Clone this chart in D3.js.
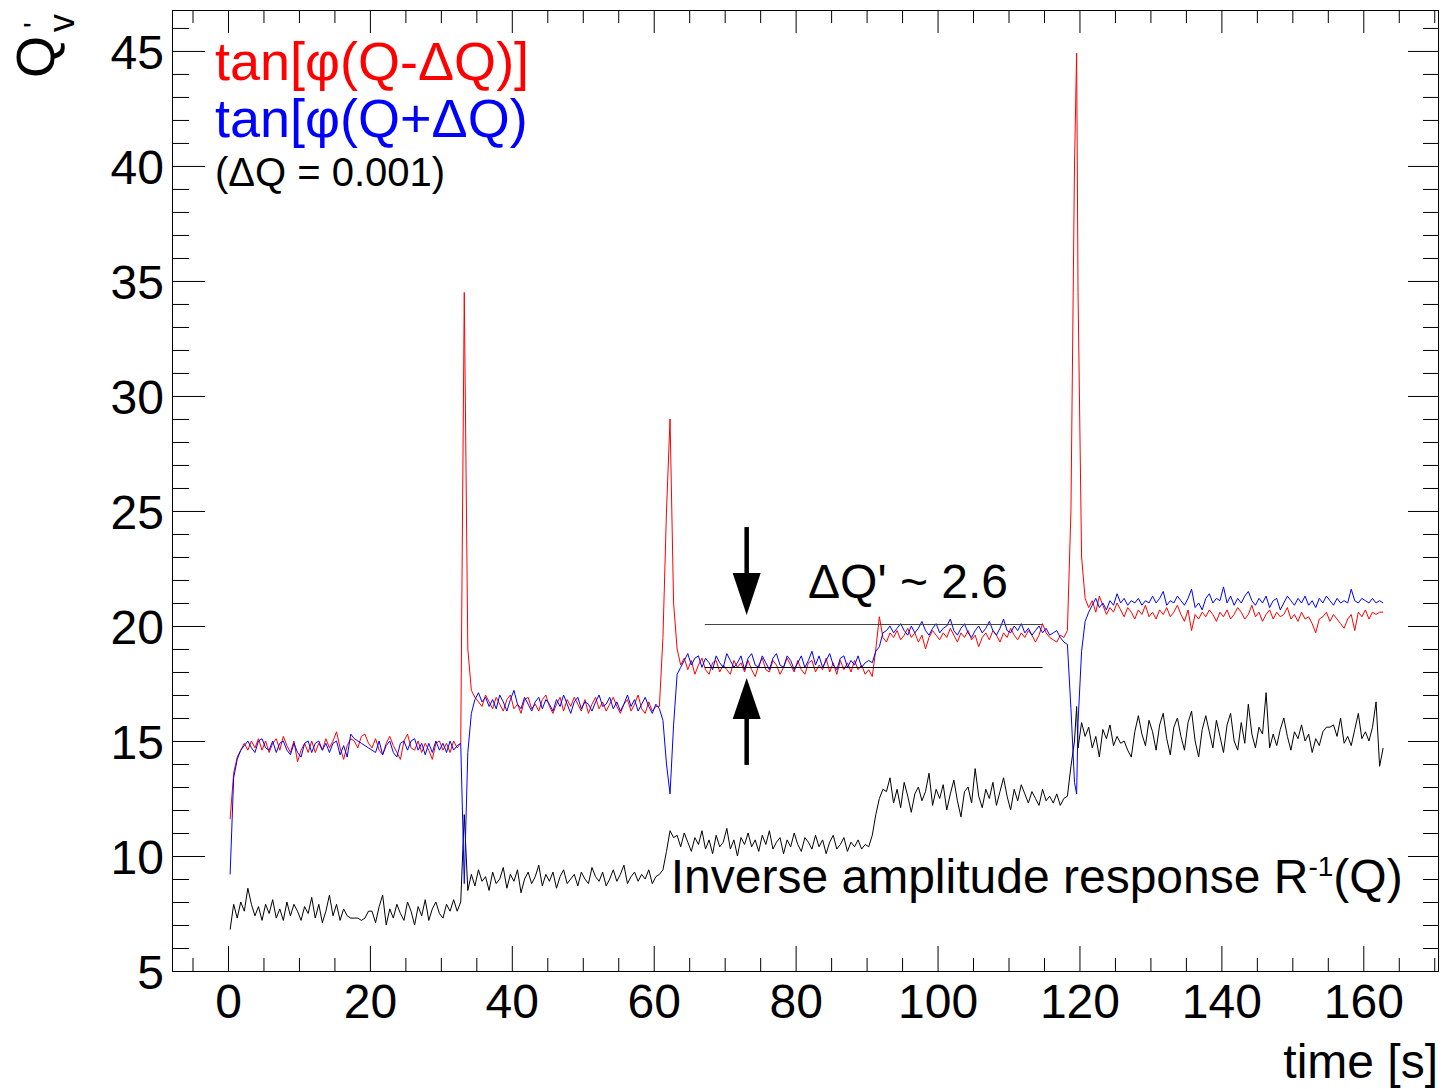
<!DOCTYPE html>
<html><head><meta charset="utf-8">
<script src="https://cdn.jsdelivr.net/npm/d3@7"></script>
<style>
body{margin:0;background:#fff}
svg{display:block}
text{font-family:"Liberation Sans", Arial, Helvetica, sans-serif}
</style>
</head><body>
<svg id="chart" width="1444" height="1089"></svg>
<script>
// ---- data (time in s, values of Q'_v) ----
const time = [
0.3,0.8,1.3,1.8,2.3,2.8,3.3,3.8,4.3,4.8,5.3,5.8,6.3,6.8,7.3,7.8,8.3,8.8,9.3,9.8,
10.3,10.8,11.3,11.8,12.3,12.8,13.3,13.8,14.3,14.8,15.3,15.8,16.3,16.8,17.3,17.8,18.3,18.8,19.3,19.8,
20.3,20.8,21.3,21.8,22.3,22.8,23.3,23.8,24.3,24.8,25.3,25.8,26.3,26.8,27.3,27.8,28.3,28.8,29.3,29.8,
30.3,30.8,31.3,31.8,32.3,32.8,33.3,33.8,34.3,34.8,35.3,35.8,36.3,36.8,37.3,37.8,38.3,38.8,39.3,39.8,
40.3,40.8,41.3,41.8,42.3,42.8,43.3,43.8,44.3,44.8,45.3,45.8,46.3,46.8,47.3,47.8,48.3,48.8,49.3,49.8,
50.3,50.8,51.3,51.8,52.3,52.8,53.3,53.8,54.3,54.8,55.3,55.8,56.3,56.8,57.3,57.8,58.3,58.8,59.3,59.8,
60.3,60.8,61.3,61.8,62.3,62.8,63.3,63.8,64.3,64.8,65.3,65.8,66.3,66.8,67.3,67.8,68.3,68.8,69.3,69.8,
70.3,70.8,71.3,71.8,72.3,72.8,73.3,73.8,74.3,74.8,75.3,75.8,76.3,76.8,77.3,77.8,78.3,78.8,79.3,79.8,
80.3,80.8,81.3,81.8,82.3,82.8,83.3,83.8,84.3,84.8,85.3,85.8,86.3,86.8,87.3,87.8,88.3,88.8,89.3,89.8,
90.3,90.8,91.3,91.8,92.3,92.8,93.3,93.8,94.3,94.8,95.3,95.8,96.3,96.8,97.3,97.8,98.3,98.8,99.3,99.8,
100.3,100.8,101.3,101.8,102.3,102.8,103.3,103.8,104.3,104.8,105.3,105.8,106.3,106.8,107.3,107.8,108.3,108.8,109.3,109.8,
110.3,110.8,111.3,111.8,112.3,112.8,113.3,113.8,114.3,114.8,115.3,115.8,116.3,116.8,117.3,117.8,118.3,118.8,119.3,119.6,119.8,
120.3,120.8,121.3,121.8,122.3,122.8,123.3,123.8,124.3,124.8,125.3,125.8,126.3,126.8,127.3,127.8,128.3,128.8,129.3,129.8,
130.3,130.8,131.3,131.8,132.3,132.8,133.3,133.8,134.3,134.8,135.3,135.8,136.3,136.8,137.3,137.8,138.3,138.8,139.3,139.8,
140.3,140.8,141.3,141.8,142.3,142.8,143.3,143.8,144.3,144.8,145.3,145.8,146.3,146.8,147.3,147.8,148.3,148.8,149.3,149.8,
150.3,150.8,151.3,151.8,152.3,152.8,153.3,153.8,154.3,154.8,155.3,155.8,156.3,156.8,157.3,157.8,158.3,158.8,159.3,159.8,
160.3,160.8,161.3,161.8,162.3,162.8
];

// tan[phi(Q-dQ)]  (red)
const tanMinus = [
11.6,13.6,14.3,14.6,14.9,14.6,15.0,14.7,15.1,14.6,15.0,14.5,14.9,15.1,14.6,15.2,14.8,14.5,15.0,14.1,
14.6,14.9,14.5,15.0,14.5,14.9,14.6,15.1,14.7,15.0,15.4,14.7,14.2,14.8,15.1,15.0,14.7,15.2,15.3,14.9,
14.7,15.1,14.6,14.4,14.9,15.2,14.8,14.5,14.2,15.0,15.3,14.7,14.6,15.0,14.5,14.9,14.6,14.2,14.9,15.0,
14.6,14.9,14.5,15.0,14.7,14.9,
34.5,
19.0,17.2,16.9,16.7,16.5,17.0,16.7,16.4,16.9,16.6,16.3,16.8,17.0,16.4,16.6,16.2,16.8,16.9,16.4,16.6,
16.3,16.8,17.0,16.5,16.2,16.6,16.9,16.3,16.8,16.5,16.9,16.6,16.3,16.8,16.2,16.6,16.9,16.4,16.7,16.3,
16.6,16.9,16.5,16.2,16.6,16.8,16.3,16.6,17.0,16.4,16.2,16.7,16.3,16.5,16.5,
19.5,25.0,29.0,21.0,
19.0,18.3,18.6,18.1,18.5,17.9,18.3,18.6,18.1,17.9,18.4,18.5,18.0,18.3,18.1,17.9,18.5,18.2,18.4,18.0,
18.5,18.1,17.8,18.3,18.6,18.1,18.0,18.5,18.3,17.9,18.2,18.6,18.3,18.0,18.5,18.1,17.9,18.4,18.5,18.0,
18.3,18.1,18.6,18.0,18.4,17.9,18.5,18.1,18.4,18.0,18.5,18.1,18.3,17.9,18.1,
17.8,19.0,20.4,19.5,
19.3,19.7,19.5,19.8,19.4,19.6,19.9,19.5,19.7,19.3,19.6,19.0,19.5,19.8,19.6,19.4,19.7,19.5,19.9,19.6,
19.3,19.7,19.5,19.8,19.4,19.6,19.1,19.5,19.7,19.4,19.8,19.6,19.3,19.7,19.5,19.9,19.6,19.4,19.7,19.5,
19.8,19.6,19.3,19.6,20.1,19.7,19.5,19.4,19.3,19.6,19.5,
19.8,25.0,40.0,44.9,34.5,
23.0,21.2,20.8,21.1,20.6,21.3,20.9,20.5,20.8,20.6,21.0,20.7,20.4,20.8,20.6,20.3,20.7,20.5,20.9,20.4,
20.6,20.3,20.7,20.5,20.8,20.4,20.6,20.9,20.5,20.2,20.7,19.8,20.5,20.3,20.6,20.4,20.7,20.5,20.2,20.6,
20.4,20.7,20.3,20.5,20.8,20.6,20.3,20.5,20.9,20.4,20.6,20.2,20.5,20.7,20.3,20.6,20.4,20.5,20.8,20.3,
20.5,20.2,20.6,20.3,20.4,20.1,19.7,20.3,20.4,20.6,20.2,20.5,20.3,20.1,19.9,20.3,20.5,19.8,20.6,20.4,
20.7,20.3,20.6,20.5,20.6,20.6
];

// tan[phi(Q+dQ)]  (blue)
const tanPlus = [
9.2,13.4,14.2,14.6,14.8,15.0,14.7,14.5,15.0,15.1,14.7,14.6,15.0,14.5,14.9,15.0,14.6,14.4,14.9,14.5,
14.3,14.9,15.0,14.5,14.9,15.0,14.6,14.9,14.5,14.9,15.0,14.4,14.8,14.3,15.3,15.1,15.0,14.9,14.8,14.7,
14.6,14.5,15.0,14.4,14.8,15.0,14.5,14.3,14.9,15.0,14.6,15.0,15.1,14.6,14.9,14.4,14.9,14.5,15.0,14.6,
14.9,14.5,15.0,14.6,14.8,14.9,
8.8,
14.5,16.2,16.8,17.1,16.7,16.9,16.5,16.8,16.4,17.0,16.7,16.3,16.8,17.2,16.6,16.4,16.9,16.6,16.3,16.7,
16.9,16.4,16.8,16.6,16.3,16.8,16.5,17.0,16.6,16.2,16.7,16.9,16.4,16.7,16.6,16.3,16.7,17.0,16.5,16.6,
16.9,16.4,16.7,16.3,16.6,17.0,16.5,16.8,16.3,16.6,16.9,16.5,16.2,16.6,16.4,
15.9,14.0,12.7,15.7,
17.9,18.2,18.5,18.8,18.3,18.6,18.7,18.2,18.6,18.4,18.1,18.7,18.4,18.2,18.8,18.5,18.2,18.4,18.7,18.1,
18.6,18.8,18.3,18.2,18.7,18.4,18.1,18.6,18.8,18.3,18.2,18.7,18.5,18.1,18.4,18.7,18.2,18.5,18.9,18.3,
18.7,18.2,18.5,18.8,18.3,18.1,18.6,18.7,18.2,18.5,18.3,18.7,18.2,18.4,18.5,
18.4,18.9,19.1,19.7,
19.8,20.0,19.7,19.9,20.1,19.8,19.6,20.0,19.7,19.9,20.2,19.8,19.6,19.9,20.1,19.7,19.9,20.0,20.3,19.8,
19.6,19.9,20.1,19.7,19.5,19.8,20.0,19.7,19.9,20.2,19.8,19.6,19.9,20.3,19.8,19.7,20.0,19.8,20.1,19.7,
19.9,19.6,19.8,20.0,19.7,19.9,19.6,19.7,19.8,19.5,19.3,
19.2,16.4,13.2,12.7,15.8,
18.9,20.2,20.6,20.9,21.2,20.8,21.0,20.7,21.1,20.9,21.4,21.0,21.2,20.9,21.1,21.0,21.2,20.9,21.1,21.0,
21.3,21.0,21.2,21.5,20.9,21.1,21.0,21.3,21.1,20.9,21.2,21.6,20.8,21.0,20.7,21.2,21.4,21.0,21.2,21.1,
21.7,21.0,21.3,20.9,21.2,21.0,21.3,21.5,21.1,20.9,21.2,21.0,21.3,20.8,21.1,21.2,20.7,21.0,21.3,21.1,
20.9,21.2,21.0,21.3,20.9,21.1,20.8,21.2,21.0,21.3,21.1,20.9,21.2,21.0,21.1,21.0,21.6,21.1,21.0,21.2,
21.1,21.0,21.2,21.0,21.1,21.0
];

// inverse amplitude response R^-1(Q)  (black)
const invResponse = [
6.8,7.9,7.3,8.0,7.6,8.6,7.9,7.4,7.8,7.2,7.9,7.5,8.1,7.3,7.7,7.2,8.0,7.4,7.9,7.6,
7.2,7.8,7.5,8.2,7.3,7.9,7.1,7.6,8.3,7.4,7.9,7.2,7.7,7.4,7.3,7.3,7.3,7.2,7.3,7.6,
7.6,7.1,7.8,8.3,7.0,7.7,7.3,7.9,7.5,7.2,8.0,7.6,7.0,7.8,7.4,8.1,7.2,7.7,8.0,7.5,
7.3,7.9,7.6,8.1,7.6,8.0,
11.8,
8.5,9.2,8.7,9.4,8.9,9.1,8.5,9.3,8.8,9.0,9.5,8.6,9.2,8.9,9.4,8.4,9.0,9.3,8.8,9.1,
9.6,8.7,9.2,8.9,9.3,8.6,9.1,9.4,8.8,9.0,9.2,8.7,9.3,9.0,8.8,9.5,9.1,8.9,9.3,8.7,
9.0,9.4,8.9,9.2,9.6,8.8,9.1,9.3,8.9,9.2,9.0,9.4,8.8,9.1,9.2,
9.4,10.2,11.1,10.8,
10.9,10.4,11.0,10.6,10.2,10.8,10.5,11.1,10.3,10.7,10.1,10.9,10.4,10.6,11.2,10.3,10.7,10.0,10.8,10.5,
11.0,10.4,10.7,10.2,10.9,10.5,11.1,10.3,10.6,10.8,10.1,10.7,10.4,11.0,10.5,10.2,10.8,10.6,10.3,10.9,
10.4,10.7,10.1,10.6,10.9,10.3,10.5,10.8,10.2,10.6,10.4,10.7,10.3,10.5,10.4,
10.9,11.8,12.5,12.9,
12.8,13.4,12.3,12.9,12.1,13.2,12.6,11.9,12.7,13.0,12.4,12.8,13.6,12.2,12.9,12.5,13.1,12.0,12.7,13.3,
12.4,11.7,12.8,13.0,12.3,13.8,12.6,12.1,12.9,12.5,13.2,12.2,12.8,13.4,12.6,12.0,12.9,12.4,13.1,12.7,
12.3,12.8,12.5,12.2,12.9,12.4,12.6,12.3,12.7,12.2,12.5,
12.6,13.9,15.0,16.5,14.7,
15.8,15.2,15.6,14.7,15.2,14.3,15.5,15.1,15.7,14.8,15.2,14.9,15.0,14.6,14.3,15.4,16.1,15.3,14.8,15.9,
15.4,14.6,15.7,16.2,15.1,14.4,15.6,16.0,15.2,14.6,15.8,16.3,15.0,14.3,15.5,16.1,15.4,14.7,15.9,15.2,
14.5,15.7,16.2,15.0,14.6,15.8,14.9,16.6,15.3,14.7,15.6,15.3,17.1,14.7,15.3,14.8,15.5,16.0,15.2,14.6,
15.4,15.1,15.7,15.0,15.3,14.5,15.1,14.8,15.4,15.6,15.6,15.7,15.2,16.0,14.9,15.2,14.8,15.5,16.2,15.1,
15.4,15.0,15.6,16.7,13.9,14.7
];

const xTickValues = [0, 20, 40, 60, 80, 100, 120, 140, 160];
const yTickValues = [5, 10, 15, 20, 25, 30, 35, 40, 45];
const legendLabels = ["tan[φ(Q-ΔQ)]", "tan[φ(Q+ΔQ)", "(ΔQ = 0.001)"];
// annotation: levels of the two reference lines and their time span
const deltaLevels = [20.1, 18.2];
const deltaSpan = [67.2, 114.8];
const arrowTime = 73.1;

// ---- drawing ----
const svg = d3.select("#chart");
const frame = {left: 172, right: 1439, top: 10, bottom: 971};
const x = d3.scaleLinear().domain([-7.89, 170.67]).range([frame.left, frame.right]);
const y = d3.scaleLinear().domain([5, 46.78]).range([frame.bottom, frame.top]);
const FONT = "'Liberation Sans', Arial, Helvetica, sans-serif";

svg.append("rect").attr("width", 1444).attr("height", 1089).attr("fill", "#fff");

// minor tick values
const xMinor = d3.range(-5, 171, 5).filter(v => v % 20 !== 0);
const yMinor = d3.range(6, 47, 1).filter(v => v % 5 !== 0);

function styleAxis(g) {
  g.select(".domain").remove();
  g.attr("font-family", FONT).attr("font-size", 48);
  g.selectAll("line").attr("stroke", "#000").attr("stroke-width", 1);
  g.selectAll("text").attr("fill", "#000");
}

// bottom axis
svg.append("g").attr("transform", `translate(0,${frame.bottom})`)
  .call(d3.axisBottom(x).tickValues(xTickValues).tickSize(-25).tickPadding(13).tickFormat(d3.format("d")))
  .call(styleAxis);
svg.append("g").attr("transform", `translate(0,${frame.bottom})`)
  .call(d3.axisBottom(x).tickValues(xMinor).tickSize(-13).tickFormat(""))
  .call(styleAxis);
// top axis (ticks only)
svg.append("g").attr("transform", `translate(0,${frame.top})`)
  .call(d3.axisTop(x).tickValues(xTickValues).tickSize(-23).tickFormat(""))
  .call(styleAxis);
svg.append("g").attr("transform", `translate(0,${frame.top})`)
  .call(d3.axisTop(x).tickValues(xMinor).tickSize(-13).tickFormat(""))
  .call(styleAxis);
// left axis
svg.append("g").attr("transform", `translate(${frame.left},0)`)
  .call(d3.axisLeft(y).tickValues(yTickValues).tickSize(-33).tickPadding(8).tickFormat(d3.format("d")))
  .call(styleAxis)
  .call(g => g.selectAll("text").attr("dy", "0.36em"));
svg.append("g").attr("transform", `translate(${frame.left},0)`)
  .call(d3.axisLeft(y).tickValues(yMinor).tickSize(-17).tickFormat(""))
  .call(styleAxis);
// right axis (ticks only)
svg.append("g").attr("transform", `translate(${frame.right},0)`)
  .call(d3.axisRight(y).tickValues(yTickValues).tickSize(-31).tickFormat(""))
  .call(styleAxis);
svg.append("g").attr("transform", `translate(${frame.right},0)`)
  .call(d3.axisRight(y).tickValues(yMinor).tickSize(-16).tickFormat(""))
  .call(styleAxis);

// frame
svg.append("rect")
  .attr("x", frame.left + 0.5).attr("y", frame.top + 0.5)
  .attr("width", frame.right - frame.left - 1).attr("height", frame.bottom - frame.top)
  .attr("fill", "none").attr("stroke", "#000").attr("stroke-width", 1);

// series
const line = d3.line().x(d => x(d[0])).y(d => y(d[1]));
const series = [
  {values: invResponse, color: "#000000"},
  {values: tanMinus, color: "#ff0000"},
  {values: tanPlus, color: "#0000ff"}
];
series.forEach(s => {
  svg.append("path")
    .datum(d3.zip(time, s.values))
    .attr("d", line)
    .attr("fill", "none")
    .attr("stroke", s.color)
    .attr("stroke-width", 1)
    .attr("stroke-linejoin", "round");
});

// reference lines for ΔQ'
svg.append("line")
  .attr("x1", x(deltaSpan[0])).attr("x2", x(deltaSpan[1]))
  .attr("y1", Math.round(y(deltaLevels[0])) + 0.5).attr("y2", Math.round(y(deltaLevels[0])) + 0.5)
  .attr("stroke", "#444").attr("stroke-width", 1);
svg.append("line")
  .attr("x1", x(deltaSpan[0])).attr("x2", x(deltaSpan[1]))
  .attr("y1", Math.round(y(deltaLevels[1])) + 0.5).attr("y2", Math.round(y(deltaLevels[1])) + 0.5)
  .attr("stroke", "#000").attr("stroke-width", 1);

// arrows
const ax = x(arrowTime);
function arrow(yStart, yBase, yTip) {
  svg.append("line").attr("x1", ax).attr("x2", ax).attr("y1", yStart).attr("y2", yBase)
    .attr("stroke", "#000").attr("stroke-width", 4.5);
  svg.append("path")
    .attr("d", `M${ax - 14},${yBase} L${ax + 14},${yBase} L${ax},${yTip} Z`)
    .attr("fill", "#000");
}
arrow(y(24.3), y(22.3), y(20.48));
arrow(y(13.96), y(15.96), y(17.74));

svg.append("text")
  .attr("x", x(81.75)).attr("y", y(21.2))
  .attr("font-family", FONT).attr("font-size", 48)
  .text("ΔQ' ~ 2.6");

// inverse amplitude label
const inv = svg.append("text")
  .attr("x", x(62.4)).attr("y", y(8.4))
  .attr("font-family", FONT).attr("font-size", 48);
inv.append("tspan").text("Inverse amplitude response R");
inv.append("tspan").attr("dy", -17).attr("font-size", 28).text("-1");
inv.append("tspan").attr("dy", 17).text("(Q)");

// legend
svg.append("text").attr("x", 215).attr("y", 80).attr("font-family", FONT).attr("font-size", 54)
  .attr("fill", "#ff0000").text(legendLabels[0]);
svg.append("text").attr("x", 215).attr("y", 137).attr("font-family", FONT).attr("font-size", 54)
  .attr("fill", "#0000ff").text(legendLabels[1]);
svg.append("text").attr("x", 215).attr("y", 186).attr("font-family", FONT).attr("font-size", 40)
  .attr("fill", "#000").text(legendLabels[2]);

// axis titles
svg.append("text").attr("x", 1438).attr("y", 1078).attr("text-anchor", "end")
  .attr("font-family", FONT).attr("font-size", 48).text("time [s]");

const yTitle = svg.append("g").attr("transform", "translate(54,78) rotate(-90)")
  .attr("font-family", FONT);
yTitle.append("text").attr("x", 0).attr("y", 0).attr("font-size", 54).text("Q");
yTitle.append("text").attr("x", 50).attr("y", -10).attr("font-size", 30).text("'");
yTitle.append("text").attr("x", 46).attr("y", 20).attr("font-size", 36).text("v");
</script>
</body></html>
